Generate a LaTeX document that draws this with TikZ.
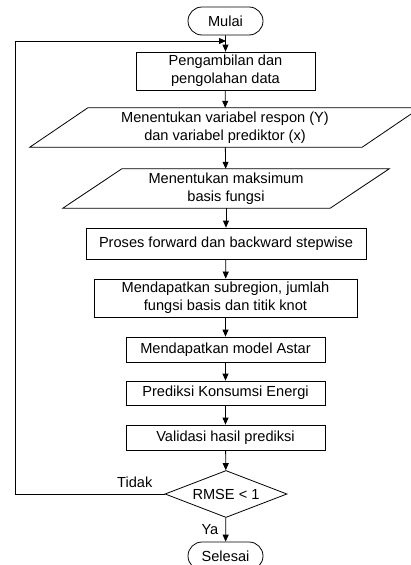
\documentclass[tikz,border=0pt]{standalone}
\usepackage{fontspec}
\setmainfont{Liberation Sans}
\usetikzlibrary{arrows.meta, shapes.geometric, shapes.misc}

\newcommand{\flowfont}{\fontsize{14.6}{18}\selectfont}

\tikzset{
    bord/.style={draw, line width=0.8pt},
    blk/.style={bord, inner sep=0pt, align=center, font=\flowfont},
    term/.style={blk, rounded rectangle, minimum width=75pt, minimum height=28pt},
    proc/.style={blk, rectangle, minimum width=#1},
    io/.style={inner sep=0pt, align=center, font=\flowfont, minimum height=39pt, minimum width=#1},
    cond/.style={blk, diamond, aspect=2.6, minimum width=122pt, minimum height=47pt},
    lbl/.style={font=\flowfont, inner sep=0pt},
    flow/.style={-{Triangle[length=7pt, width=6pt]}, line width=0.8pt},
  }

\begin{document}
\begin{tikzpicture}[x=1pt, y=-1pt]
        \useasboundingbox (0,0) rectangle (411,565);
        \clip (0,0) rectangle (411,565);

        \node[term] (mulai) at (225.5,21) {Mulai};
        \node[proc=179pt, minimum height=38pt] (ambil) at (225.5,71) {Pengambilan dan\\pengolahan data};
        \node[io=390pt] (respon) at (225,127.5) {Menentukan variabel respon (Y)\\dan variabel prediktor (x)};
        \draw[bord] ([xshift=58pt]respon.north west) -- (respon.north east)
            -- ([xshift=-58pt]respon.south east) -- (respon.south west) -- cycle;
        \node[io=326pt] (basis) at (226,188.5) {Menentukan maksimum\\basis fungsi};
        \draw[bord] ([xshift=59pt]basis.north west) -- (basis.north east)
            -- ([xshift=-59pt]basis.south east) -- (basis.south west) -- cycle;
        \node[proc=280pt, minimum height=31pt] (proses) at (226,243.5) {Proses forward dan backward stepwise};
        \node[proc=263pt, minimum height=38pt] (subreg) at (225.5,298) {Mendapatkan subregion, jumlah\\fungsi basis dan titik knot};
        \node[proc=199pt, minimum height=25pt] (model) at (225.5,349.5) {Mendapatkan model Astar};
        \node[proc=199pt, minimum height=24pt] (prediksi) at (225.5,393) {Prediksi Konsumsi Energi};
        \node[proc=199pt, minimum height=25pt] (validasi) at (225.5,437.5) {Validasi hasil prediksi};
        \node[cond] (cek) at (226,494) {RMSE < 1};
        \node[term] (selesai) at (225.5,556) {Selesai};

        \coordinate (kiri) at (15,494);
        \coordinate (masuk) at (226,41);

        \draw[flow] (mulai) -- (ambil);
        \draw[flow] (ambil) -- (respon);
        \draw[flow] (respon) -- (basis);
        \draw[flow] (basis) -- (proses);
        \draw[flow] (proses) -- (subreg);
        \draw[flow] (subreg) -- (model);
        \draw[flow] (model) -- (prediksi);
        \draw[flow] (prediksi) -- (validasi);
        \draw[flow] (validasi) -- (cek);
        \draw[flow] (cek) -- node[lbl, anchor=east, xshift=-7pt] (ya) {Ya} (selesai);
        \draw[flow] (cek.west) -- (kiri) |- (masuk);
        \node[lbl, anchor=south east, xshift=-12pt, yshift=6pt] (tidak) at (cek.west) {Tidak};
    \end{tikzpicture}
\end{document}
